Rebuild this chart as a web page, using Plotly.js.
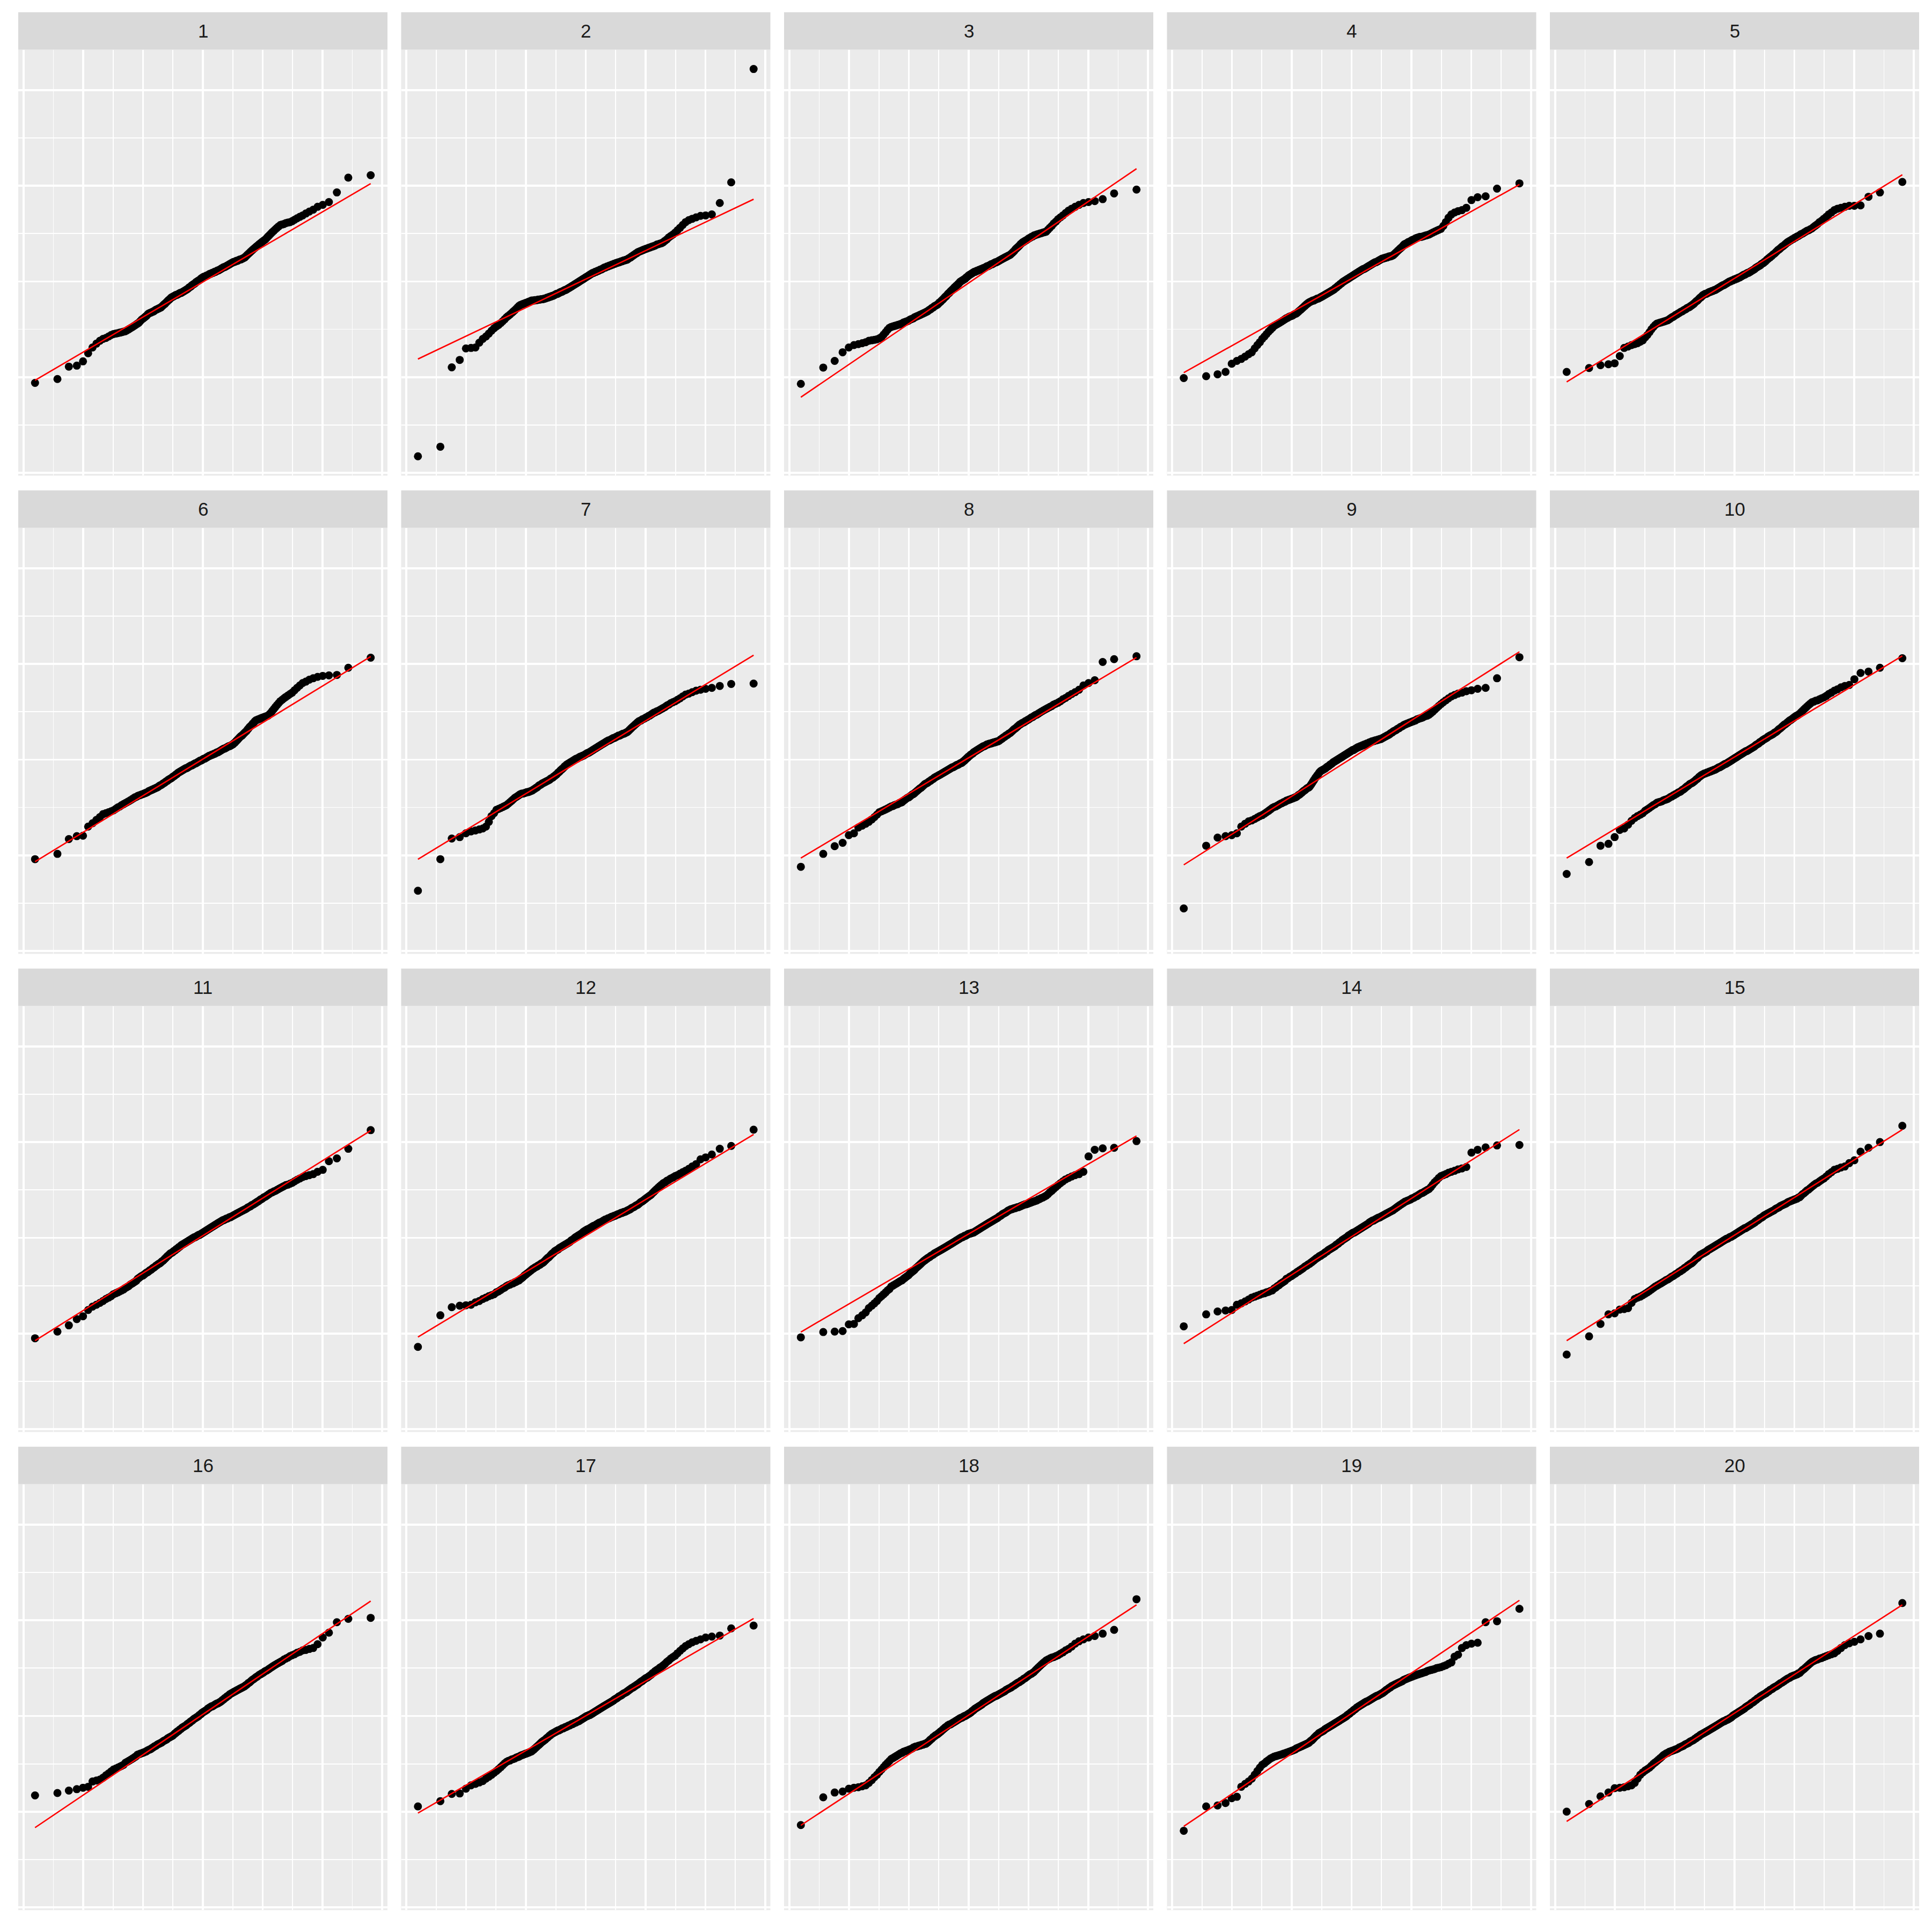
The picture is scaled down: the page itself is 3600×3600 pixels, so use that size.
<!DOCTYPE html>
<html>
<head>
<meta charset="utf-8">
<script src="https://cdn.plot.ly/plotly-3.0.1.min.js"></script>
<style>html,body{margin:0;padding:0;background:#fff}#chart{width:3600px;height:3600px}</style>
</head>
<body>
<div id="chart"></div>
<script>
// Facet labels
const panelLabels = ["1","2","3","4","5","6","7","8","9","10","11","12","13","14","15","16","17","18","19","20"];

// Sorted sample values for each facet (200 each)
const p1 = [-1.06,-1.02,-0.89,-0.88,-0.835,-0.75,
-0.69,-0.65,-0.62,-0.60,-0.59,-0.575,-0.56,-0.55,-0.545,-0.54,-0.535,-0.53,-0.525,
-0.52,-0.51,-0.50,-0.49,-0.48,-0.47,-0.46,-0.45,-0.44,-0.43,-0.415,-0.40,-0.39,-0.38,-0.37,-0.36,-0.345,-0.335,
-0.33,-0.325,-0.32,-0.315,-0.31,-0.30,-0.295,-0.29,-0.285,-0.28,-0.275,
-0.27,-0.26,-0.25,-0.24,-0.235,-0.225,-0.215,-0.205,-0.195,-0.19,-0.18,-0.17,-0.165,
-0.16,-0.155,-0.15,-0.145,-0.14,-0.14,-0.135,-0.13,-0.125,-0.12,-0.12,-0.115,-0.11,-0.105,-0.10,
-0.095,-0.09,-0.085,-0.08,-0.075,-0.065,-0.06,-0.055,-0.05,-0.04,-0.035,-0.03,-0.025,-0.02,-0.01,-0.005,
0,0.005,0.01,0.015,0.02,0.03,0.035,0.04,
0.045,0.05,0.05,0.055,0.06,0.06,0.065,0.07,
0.075,0.08,0.08,0.085,0.09,0.09,0.095,0.10,0.10,0.105,0.11,0.115,0.115,0.12,0.125,0.13,
0.135,0.14,0.145,0.15,0.15,0.155,0.16,0.165,0.17,0.175,0.18,0.185,0.19,0.195,0.20,
0.205,0.205,0.21,0.215,0.215,0.22,0.225,0.23,0.23,0.235,0.24,0.245,0.25,
0.26,0.27,0.28,0.29,0.30,0.31,0.32,0.33,0.34,0.35,0.36,
0.37,0.38,0.39,0.40,0.41,0.42,0.43,0.44,0.455,0.47,
0.485,0.50,0.515,0.53,0.545,0.56,0.575,0.59,0.595,0.60,0.61,0.615,0.62,0.63,
0.645,0.66,0.675,0.69,0.71,0.73,0.75,
0.78,0.80,0.83,0.93,1.085,1.11];

const p2 = [-1.827,-1.727,-0.898,-0.82,-0.70,-0.695,
-0.69,-0.64,-0.60,-0.575,-0.545,-0.515,-0.49,-0.47,-0.455,-0.435,-0.415,-0.395,-0.375,
-0.36,-0.345,-0.33,-0.315,-0.30,-0.285,-0.27,-0.255,
-0.245,-0.24,-0.235,-0.23,-0.225,-0.22,-0.215,-0.21,-0.205,-0.20,
-0.20,-0.20,-0.195,-0.195,-0.195,-0.19,-0.19,-0.19,-0.185,-0.185,-0.185,
-0.18,-0.18,-0.175,-0.17,-0.17,-0.165,-0.16,-0.16,-0.155,-0.15,-0.15,-0.145,-0.14,
-0.135,-0.13,-0.13,-0.125,-0.12,-0.115,-0.11,-0.11,-0.105,-0.10,-0.095,-0.09,-0.09,-0.085,-0.08,
-0.075,-0.07,-0.065,-0.06,-0.055,-0.05,-0.045,-0.04,-0.035,-0.03,-0.025,-0.02,-0.015,-0.01,-0.005,0,
0.005,0.01,0.015,0.02,0.025,0.03,0.035,0.04,
0.045,0.05,0.055,0.06,0.065,0.07,0.075,0.08,
0.085,0.09,0.09,0.095,0.10,0.10,0.105,0.11,0.11,0.115,0.12,0.125,0.125,0.13,0.135,0.14,
0.145,0.145,0.15,0.155,0.155,0.16,0.165,0.165,0.17,0.175,0.175,0.18,0.185,0.185,0.19,
0.195,0.195,0.20,0.20,0.205,0.21,0.21,0.215,0.22,0.22,0.225,0.225,0.23,
0.24,0.245,0.25,0.26,0.265,0.275,0.28,0.29,0.295,0.305,0.31,
0.315,0.32,0.325,0.33,0.335,0.34,0.345,0.35,0.355,0.36,
0.365,0.37,0.375,0.385,0.39,0.395,0.40,0.41,
0.425,0.44,0.46,0.475,0.49,0.51,0.535,0.56,0.59,0.62,0.64,0.655,0.67,
0.685,0.69,0.70,0.82,1.036,2.22];

const p3 = [-1.07,-0.90,-0.83,-0.74,-0.69,-0.665,
-0.655,-0.645,-0.635,-0.62,-0.615,-0.61,-0.605,-0.595,-0.58,-0.555,-0.53,-0.505,-0.485,
-0.475,-0.47,-0.465,-0.46,-0.455,-0.45,-0.445,-0.44,
-0.43,-0.425,-0.42,-0.415,-0.41,-0.40,-0.395,-0.39,-0.385,-0.375,
-0.37,-0.365,-0.36,-0.355,-0.35,-0.345,-0.34,-0.335,-0.33,-0.325,-0.32,
-0.315,-0.31,-0.30,-0.295,-0.29,-0.28,-0.275,-0.27,-0.26,-0.255,-0.25,-0.245,-0.24,
-0.23,-0.22,-0.215,-0.205,-0.195,-0.19,-0.18,-0.17,-0.16,-0.155,-0.145,-0.135,-0.125,-0.12,-0.11,
-0.10,-0.095,-0.085,-0.08,-0.07,-0.06,-0.055,-0.045,-0.04,-0.03,-0.025,-0.015,-0.005,0,0.005,0.01,
0.015,0.02,0.025,0.03,0.04,0.045,0.05,0.06,
0.065,0.07,0.075,0.08,0.085,0.09,0.095,0.10,
0.10,0.105,0.11,0.11,0.115,0.12,0.12,0.125,0.13,0.13,0.135,0.14,0.14,0.145,0.15,0.155,
0.16,0.16,0.165,0.17,0.175,0.18,0.18,0.185,0.19,0.195,0.20,0.20,0.205,0.21,0.215,
0.22,0.225,0.23,0.235,0.24,0.245,0.25,0.255,0.26,0.265,0.27,0.275,0.28,
0.29,0.30,0.31,0.32,0.335,0.345,0.355,0.365,0.375,0.39,0.40,
0.41,0.415,0.425,0.43,0.44,0.45,0.455,0.465,0.47,0.48,
0.485,0.49,0.495,0.50,0.505,0.51,0.515,0.52,
0.54,0.56,0.58,0.605,0.625,0.65,0.67,0.69,0.715,0.74,0.76,0.78,0.80,
0.82,0.83,0.84,0.86,0.92,0.96];

const p4 = [-1.01,-0.99,-0.97,-0.945,-0.86,-0.83,
-0.81,-0.785,-0.76,-0.74,-0.70,-0.665,-0.635,-0.60,-0.575,-0.55,-0.525,-0.505,-0.485,
-0.465,-0.455,-0.445,-0.435,-0.425,-0.415,-0.405,-0.395,
-0.385,-0.38,-0.37,-0.365,-0.36,-0.355,-0.345,-0.34,-0.335,-0.325,
-0.315,-0.305,-0.295,-0.285,-0.275,-0.265,-0.255,-0.245,-0.235,-0.23,-0.22,
-0.215,-0.21,-0.205,-0.20,-0.20,-0.195,-0.19,-0.185,-0.18,-0.18,-0.175,-0.17,-0.165,
-0.16,-0.155,-0.15,-0.145,-0.14,-0.135,-0.13,-0.125,-0.12,-0.115,-0.11,-0.105,-0.10,-0.095,-0.09,
-0.085,-0.08,-0.07,-0.065,-0.06,-0.05,-0.045,-0.04,-0.03,-0.025,-0.02,-0.01,-0.005,0,0.005,0.01,
0.015,0.02,0.025,0.03,0.035,0.04,0.045,0.05,
0.055,0.06,0.065,0.07,0.075,0.08,0.085,0.09,
0.095,0.10,0.105,0.11,0.115,0.12,0.125,0.13,0.13,0.135,0.14,0.145,0.15,0.155,0.16,0.165,
0.17,0.175,0.18,0.185,0.19,0.195,0.20,0.20,0.205,0.21,0.215,0.22,0.225,0.23,0.235,
0.24,0.24,0.245,0.245,0.25,0.25,0.255,0.26,0.26,0.265,0.265,0.27,0.275,
0.285,0.295,0.305,0.315,0.325,0.335,0.345,0.355,0.365,0.38,0.39,
0.395,0.40,0.41,0.415,0.42,0.43,0.435,0.44,0.45,0.455,
0.46,0.465,0.465,0.47,0.475,0.48,0.485,0.49,
0.50,0.51,0.52,0.53,0.54,0.55,0.58,0.62,0.665,0.70,0.72,0.735,0.745,
0.77,0.85,0.88,0.89,0.97,1.025];

const p5 = [-0.945,-0.905,-0.875,-0.865,-0.855,-0.78,
-0.695,-0.68,-0.665,-0.655,-0.645,-0.63,-0.615,-0.585,-0.56,-0.53,-0.50,-0.475,-0.455,
-0.44,-0.435,-0.43,-0.425,-0.42,-0.415,-0.41,-0.405,
-0.395,-0.385,-0.375,-0.37,-0.36,-0.35,-0.345,-0.335,-0.33,-0.32,
-0.315,-0.31,-0.30,-0.295,-0.29,-0.28,-0.275,-0.27,-0.265,-0.255,-0.25,
-0.24,-0.235,-0.225,-0.215,-0.205,-0.20,-0.19,-0.18,-0.17,-0.165,-0.155,-0.145,-0.14,
-0.135,-0.13,-0.13,-0.125,-0.12,-0.115,-0.11,-0.11,-0.105,-0.10,-0.10,-0.095,-0.09,-0.09,-0.085,
-0.08,-0.075,-0.07,-0.065,-0.06,-0.055,-0.05,-0.045,-0.04,-0.04,-0.035,-0.03,-0.025,-0.02,-0.015,-0.01,
-0.005,0,0,0.005,0.01,0.01,0.015,0.02,
0.02,0.025,0.03,0.03,0.035,0.04,0.04,0.045,
0.05,0.055,0.06,0.065,0.07,0.07,0.075,0.08,0.085,0.09,0.09,0.095,0.10,0.105,0.11,0.115,
0.12,0.125,0.13,0.14,0.145,0.15,0.155,0.16,0.165,0.17,0.18,0.185,0.19,0.195,0.205,
0.21,0.22,0.23,0.235,0.245,0.25,0.26,0.265,0.275,0.285,0.29,0.30,0.31,
0.32,0.33,0.335,0.345,0.355,0.365,0.37,0.38,0.39,0.40,0.41,
0.415,0.425,0.43,0.44,0.445,0.455,0.46,0.47,0.475,0.485,
0.495,0.50,0.51,0.52,0.53,0.535,0.545,0.555,
0.57,0.585,0.60,0.62,0.635,0.655,0.675,0.70,0.72,0.745,0.76,0.77,0.78,
0.79,0.79,0.795,0.885,0.93,1.04];

const p6 = [-1.04,-0.985,-0.83,-0.80,-0.795,-0.70,
-0.665,-0.63,-0.60,-0.57,-0.56,-0.55,-0.54,-0.53,-0.515,-0.50,-0.49,-0.475,-0.465,
-0.455,-0.445,-0.435,-0.425,-0.415,-0.405,-0.395,-0.39,
-0.38,-0.375,-0.37,-0.365,-0.36,-0.355,-0.35,-0.345,-0.34,-0.33,
-0.325,-0.32,-0.315,-0.31,-0.305,-0.30,-0.295,-0.29,-0.285,-0.275,-0.27,
-0.265,-0.26,-0.25,-0.245,-0.24,-0.23,-0.225,-0.22,-0.21,-0.205,-0.20,-0.195,-0.19,
-0.18,-0.175,-0.17,-0.16,-0.155,-0.15,-0.14,-0.135,-0.13,-0.125,-0.12,-0.115,-0.11,-0.105,-0.10,
-0.095,-0.09,-0.09,-0.085,-0.08,-0.075,-0.07,-0.065,-0.06,-0.06,-0.055,-0.05,-0.045,-0.04,-0.04,-0.035,
-0.03,-0.025,-0.02,-0.015,-0.01,-0.01,-0.005,0,
0.005,0.01,0.01,0.015,0.02,0.025,0.03,0.035,
0.04,0.04,0.045,0.05,0.05,0.055,0.06,0.06,0.065,0.07,0.075,0.075,0.08,0.085,0.09,0.095,
0.10,0.105,0.11,0.115,0.115,0.12,0.125,0.13,0.135,0.14,0.14,0.145,0.15,0.155,0.16,
0.17,0.175,0.185,0.195,0.205,0.215,0.225,0.235,0.245,0.25,0.26,0.27,0.28,
0.29,0.30,0.315,0.325,0.34,0.35,0.36,0.375,0.385,0.40,0.41,
0.415,0.42,0.425,0.43,0.435,0.44,0.445,0.45,0.455,0.46,
0.475,0.49,0.51,0.53,0.55,0.57,0.59,0.61,
0.625,0.64,0.655,0.67,0.685,0.70,0.725,0.75,0.775,0.80,0.815,0.835,0.85,
0.865,0.875,0.88,0.885,0.96,1.065];

const p7 = [-1.37,-1.04,-0.825,-0.81,-0.77,-0.75,
-0.74,-0.73,-0.72,-0.70,-0.65,-0.59,-0.56,-0.525,-0.515,-0.505,-0.495,-0.485,-0.475,
-0.46,-0.445,-0.43,-0.415,-0.40,-0.39,-0.38,-0.37,
-0.36,-0.355,-0.355,-0.35,-0.345,-0.34,-0.34,-0.335,-0.33,-0.325,
-0.32,-0.31,-0.305,-0.295,-0.29,-0.28,-0.27,-0.265,-0.26,-0.25,-0.245,
-0.24,-0.235,-0.23,-0.225,-0.22,-0.215,-0.21,-0.20,-0.195,-0.19,-0.185,-0.175,-0.17,
-0.16,-0.155,-0.145,-0.135,-0.13,-0.12,-0.11,-0.105,-0.095,-0.09,-0.08,-0.07,-0.065,-0.055,-0.05,
-0.045,-0.04,-0.035,-0.03,-0.025,-0.02,-0.015,-0.01,-0.005,0,0.005,0.01,0.01,0.015,0.02,0.025,
0.03,0.03,0.035,0.04,0.04,0.045,0.05,0.055,
0.06,0.065,0.07,0.07,0.075,0.08,0.085,0.09,
0.095,0.10,0.105,0.11,0.115,0.12,0.125,0.13,0.135,0.14,0.145,0.15,0.155,0.16,0.165,0.17,
0.175,0.18,0.185,0.19,0.195,0.20,0.20,0.205,0.21,0.215,0.22,0.225,0.225,0.23,0.235,
0.24,0.245,0.25,0.25,0.255,0.26,0.265,0.27,0.27,0.275,0.28,0.285,0.29,
0.30,0.31,0.32,0.33,0.34,0.35,0.36,0.37,0.38,0.39,0.40,
0.405,0.41,0.42,0.425,0.43,0.44,0.445,0.455,0.46,0.47,
0.48,0.49,0.495,0.505,0.51,0.52,0.53,0.54,
0.55,0.565,0.575,0.59,0.60,0.61,0.625,0.64,0.66,0.68,0.69,0.705,0.72,
0.73,0.74,0.75,0.77,0.79,0.795];

const p8 = [-1.12,-0.985,-0.905,-0.87,-0.79,-0.77,
-0.71,-0.69,-0.67,-0.65,-0.625,-0.60,-0.575,-0.55,-0.54,-0.53,-0.52,-0.51,-0.50,
-0.49,-0.485,-0.475,-0.47,-0.465,-0.455,-0.45,-0.445,
-0.43,-0.42,-0.41,-0.40,-0.395,-0.385,-0.375,-0.365,-0.36,-0.35,
-0.34,-0.33,-0.32,-0.31,-0.30,-0.295,-0.285,-0.275,-0.265,-0.255,-0.25,
-0.245,-0.24,-0.23,-0.225,-0.22,-0.21,-0.205,-0.20,-0.19,-0.185,-0.18,-0.175,-0.17,
-0.165,-0.16,-0.155,-0.15,-0.145,-0.14,-0.135,-0.13,-0.125,-0.12,-0.115,-0.11,-0.105,-0.10,-0.095,
-0.09,-0.085,-0.08,-0.08,-0.075,-0.07,-0.065,-0.06,-0.055,-0.055,-0.05,-0.045,-0.04,-0.035,-0.035,-0.03,
-0.02,-0.015,-0.01,0,0.005,0.015,0.02,0.03,
0.035,0.04,0.05,0.055,0.06,0.065,0.075,0.08,
0.085,0.09,0.095,0.10,0.105,0.11,0.115,0.12,0.125,0.13,0.135,0.14,0.14,0.145,0.15,0.155,
0.16,0.16,0.165,0.165,0.17,0.17,0.175,0.175,0.18,0.18,0.185,0.185,0.19,0.19,0.195,
0.20,0.21,0.215,0.22,0.23,0.235,0.24,0.25,0.255,0.26,0.27,0.275,0.28,
0.29,0.30,0.31,0.32,0.325,0.335,0.345,0.355,0.365,0.37,0.38,
0.385,0.39,0.40,0.405,0.415,0.42,0.43,0.44,0.445,0.455,
0.465,0.47,0.48,0.49,0.50,0.51,0.52,0.53,
0.54,0.55,0.56,0.575,0.585,0.595,0.61,0.63,0.645,0.665,0.685,0.705,0.73,
0.775,0.80,0.83,1.02,1.05,1.08];

const p9 = [-1.555,-0.90,-0.815,-0.80,-0.79,-0.77,
-0.70,-0.67,-0.645,-0.635,-0.62,-0.605,-0.59,-0.58,-0.565,-0.55,-0.535,-0.52,-0.505,
-0.495,-0.49,-0.48,-0.47,-0.46,-0.455,-0.445,-0.44,
-0.43,-0.425,-0.42,-0.415,-0.41,-0.405,-0.40,-0.395,-0.39,-0.38,
-0.37,-0.365,-0.355,-0.345,-0.335,-0.325,-0.32,-0.31,-0.30,-0.295,-0.29,
-0.28,-0.265,-0.25,-0.235,-0.22,-0.205,-0.19,-0.18,-0.165,-0.155,-0.14,-0.13,-0.12,
-0.115,-0.11,-0.105,-0.10,-0.095,-0.09,-0.08,-0.075,-0.07,-0.065,-0.055,-0.05,-0.045,-0.04,-0.03,
-0.025,-0.02,-0.015,-0.01,-0.005,0,0.005,0.01,0.015,0.02,0.025,0.03,0.035,0.04,0.045,0.05,
0.055,0.06,0.065,0.07,0.075,0.08,0.085,0.09,
0.095,0.10,0.10,0.105,0.11,0.115,0.12,0.125,
0.13,0.13,0.135,0.14,0.14,0.145,0.15,0.15,0.155,0.16,0.16,0.165,0.17,0.17,0.175,0.18,
0.18,0.185,0.19,0.19,0.195,0.195,0.20,0.20,0.205,0.205,0.21,0.21,0.215,0.215,0.22,
0.225,0.23,0.235,0.24,0.245,0.25,0.255,0.26,0.265,0.275,0.28,0.285,0.295,
0.30,0.305,0.31,0.32,0.325,0.33,0.34,0.345,0.35,0.36,0.365,
0.37,0.375,0.38,0.385,0.39,0.395,0.40,0.405,0.41,0.42,
0.425,0.43,0.435,0.44,0.45,0.455,0.46,0.47,
0.485,0.50,0.52,0.54,0.56,0.58,0.60,0.62,0.64,0.66,0.675,0.69,0.70,
0.715,0.725,0.74,0.75,0.85,1.07];

const p10 = [-1.195,-1.07,-0.90,-0.88,-0.81,-0.735,
-0.72,-0.68,-0.64,-0.61,-0.59,-0.575,-0.56,-0.535,-0.52,-0.505,-0.49,-0.475,-0.465,
-0.45,-0.445,-0.44,-0.435,-0.425,-0.42,-0.415,-0.41,
-0.40,-0.39,-0.385,-0.375,-0.37,-0.36,-0.355,-0.345,-0.34,-0.335,
-0.325,-0.315,-0.31,-0.30,-0.29,-0.28,-0.275,-0.265,-0.255,-0.25,-0.245,
-0.24,-0.23,-0.225,-0.215,-0.205,-0.20,-0.19,-0.18,-0.175,-0.165,-0.16,-0.155,-0.15,
-0.145,-0.145,-0.14,-0.135,-0.135,-0.13,-0.125,-0.125,-0.12,-0.115,-0.115,-0.11,-0.105,-0.105,-0.10,
-0.095,-0.09,-0.085,-0.08,-0.08,-0.075,-0.07,-0.065,-0.06,-0.055,-0.05,-0.045,-0.045,-0.04,-0.035,-0.03,
-0.025,-0.02,-0.015,-0.01,-0.005,0,0.005,0.01,
0.015,0.02,0.025,0.03,0.035,0.04,0.045,0.05,
0.055,0.06,0.065,0.07,0.075,0.08,0.085,0.09,0.09,0.095,0.10,0.105,0.11,0.115,0.12,0.125,
0.13,0.135,0.14,0.15,0.155,0.16,0.165,0.17,0.18,0.185,0.19,0.195,0.205,0.21,0.215,
0.22,0.225,0.23,0.24,0.245,0.25,0.255,0.26,0.265,0.27,0.28,0.285,0.29,
0.30,0.31,0.32,0.325,0.335,0.345,0.355,0.365,0.37,0.38,0.39,
0.40,0.41,0.415,0.425,0.435,0.445,0.455,0.46,0.47,0.48,
0.495,0.51,0.525,0.54,0.555,0.57,0.585,0.60,
0.605,0.615,0.62,0.63,0.64,0.65,0.665,0.685,0.70,0.72,0.735,0.755,0.77,
0.78,0.84,0.905,0.92,0.96,1.06];

const p11 = [-1.05,-0.98,-0.915,-0.85,-0.82,-0.755,
-0.72,-0.70,-0.68,-0.66,-0.64,-0.625,-0.61,-0.59,-0.58,-0.57,-0.56,-0.55,-0.54,
-0.525,-0.515,-0.505,-0.49,-0.48,-0.47,-0.46,-0.45,
-0.43,-0.42,-0.41,-0.40,-0.395,-0.385,-0.375,-0.365,-0.36,-0.35,
-0.34,-0.335,-0.325,-0.315,-0.31,-0.30,-0.29,-0.285,-0.275,-0.27,-0.265,
-0.255,-0.245,-0.24,-0.23,-0.22,-0.21,-0.20,-0.19,-0.185,-0.175,-0.165,-0.16,-0.155,
-0.15,-0.14,-0.135,-0.13,-0.12,-0.115,-0.11,-0.10,-0.095,-0.09,-0.08,-0.075,-0.07,-0.065,-0.06,
-0.055,-0.05,-0.045,-0.04,-0.035,-0.03,-0.025,-0.02,-0.015,-0.01,-0.005,0,0.005,0.005,0.01,0.015,
0.02,0.025,0.03,0.03,0.035,0.04,0.045,0.05,
0.055,0.06,0.065,0.07,0.075,0.08,0.085,0.09,
0.095,0.10,0.105,0.11,0.115,0.12,0.125,0.13,0.135,0.14,0.145,0.15,0.155,0.16,0.165,0.17,
0.175,0.18,0.185,0.185,0.19,0.195,0.20,0.20,0.205,0.21,0.215,0.215,0.22,0.225,0.23,
0.235,0.24,0.245,0.25,0.255,0.26,0.265,0.27,0.275,0.28,0.285,0.29,0.295,
0.30,0.305,0.315,0.32,0.325,0.33,0.34,0.345,0.35,0.36,0.365,
0.375,0.38,0.39,0.40,0.405,0.415,0.425,0.43,0.44,0.45,
0.46,0.47,0.475,0.485,0.49,0.50,0.51,0.52,
0.53,0.54,0.55,0.555,0.565,0.575,0.59,0.605,0.62,0.635,0.645,0.655,0.665,
0.69,0.71,0.80,0.83,0.93,1.125];

const p12 = [-1.14,-0.81,-0.725,-0.71,-0.705,-0.70,
-0.675,-0.66,-0.64,-0.625,-0.61,-0.60,-0.59,-0.57,-0.56,-0.545,-0.53,-0.52,-0.505,
-0.495,-0.49,-0.48,-0.475,-0.465,-0.46,-0.45,-0.445,
-0.43,-0.42,-0.41,-0.395,-0.385,-0.375,-0.365,-0.355,-0.345,-0.335,
-0.325,-0.32,-0.31,-0.305,-0.30,-0.29,-0.285,-0.28,-0.27,-0.265,-0.26,
-0.25,-0.24,-0.23,-0.22,-0.21,-0.205,-0.195,-0.185,-0.175,-0.165,-0.16,-0.15,-0.14,
-0.135,-0.13,-0.125,-0.12,-0.11,-0.105,-0.10,-0.095,-0.09,-0.085,-0.08,-0.075,-0.07,-0.065,-0.06,
-0.055,-0.05,-0.045,-0.04,-0.03,-0.025,-0.02,-0.015,-0.01,0,0.005,0.01,0.015,0.02,0.025,0.03,
0.035,0.04,0.045,0.05,0.06,0.065,0.07,0.075,
0.08,0.085,0.09,0.09,0.095,0.10,0.105,0.11,
0.115,0.12,0.125,0.125,0.13,0.135,0.14,0.145,0.15,0.155,0.16,0.16,0.165,0.17,0.175,0.18,
0.185,0.19,0.19,0.195,0.20,0.205,0.205,0.21,0.215,0.22,0.22,0.225,0.23,0.23,0.235,
0.24,0.245,0.245,0.25,0.255,0.26,0.26,0.265,0.27,0.27,0.275,0.28,0.285,
0.29,0.295,0.30,0.31,0.315,0.32,0.325,0.335,0.34,0.345,0.355,
0.365,0.375,0.38,0.39,0.40,0.41,0.42,0.43,0.44,0.45,
0.465,0.48,0.495,0.51,0.525,0.54,0.555,0.57,
0.58,0.595,0.605,0.62,0.63,0.645,0.655,0.67,0.685,0.70,0.72,0.745,0.77,
0.82,0.84,0.87,0.93,0.96,1.13];

const p13 = [-1.04,-0.985,-0.98,-0.975,-0.905,-0.90,
-0.84,-0.81,-0.78,-0.735,-0.71,-0.685,-0.66,-0.63,-0.61,-0.59,-0.57,-0.55,-0.535,
-0.51,-0.50,-0.49,-0.48,-0.47,-0.46,-0.45,-0.445,
-0.43,-0.42,-0.41,-0.40,-0.39,-0.375,-0.365,-0.355,-0.345,-0.335,
-0.32,-0.31,-0.30,-0.29,-0.28,-0.27,-0.26,-0.25,-0.24,-0.235,-0.225,
-0.22,-0.21,-0.205,-0.20,-0.19,-0.185,-0.18,-0.175,-0.165,-0.16,-0.155,-0.15,-0.145,
-0.14,-0.135,-0.13,-0.125,-0.12,-0.115,-0.11,-0.105,-0.10,-0.095,-0.09,-0.085,-0.08,-0.075,-0.07,
-0.065,-0.06,-0.055,-0.05,-0.045,-0.04,-0.035,-0.03,-0.025,-0.02,-0.015,-0.01,-0.005,0,0.005,0.005,
0.01,0.015,0.02,0.02,0.025,0.03,0.035,0.04,
0.04,0.045,0.045,0.05,0.05,0.055,0.055,0.06,
0.065,0.07,0.075,0.08,0.085,0.09,0.095,0.10,0.105,0.11,0.115,0.12,0.125,0.13,0.135,0.14,
0.145,0.15,0.155,0.16,0.165,0.17,0.175,0.18,0.185,0.19,0.195,0.20,0.205,0.21,0.22,
0.225,0.23,0.235,0.245,0.25,0.255,0.26,0.265,0.27,0.28,0.285,0.29,0.295,
0.30,0.30,0.305,0.31,0.31,0.315,0.32,0.32,0.325,0.33,0.335,
0.34,0.345,0.35,0.35,0.355,0.36,0.365,0.37,0.375,0.38,
0.385,0.39,0.40,0.405,0.415,0.42,0.43,0.44,
0.455,0.475,0.49,0.51,0.53,0.55,0.57,0.59,0.61,0.625,0.64,0.655,0.665,
0.69,0.85,0.92,0.935,0.94,1.01];

const p14 = [-0.925,-0.80,-0.77,-0.76,-0.755,-0.70,
-0.685,-0.665,-0.645,-0.625,-0.615,-0.605,-0.595,-0.585,-0.58,-0.57,-0.565,-0.555,-0.55,
-0.53,-0.52,-0.505,-0.495,-0.48,-0.47,-0.46,-0.45,
-0.43,-0.425,-0.415,-0.405,-0.40,-0.39,-0.38,-0.375,-0.365,-0.355,
-0.35,-0.34,-0.335,-0.325,-0.32,-0.31,-0.30,-0.295,-0.29,-0.28,-0.275,
-0.27,-0.26,-0.255,-0.245,-0.24,-0.23,-0.225,-0.215,-0.21,-0.205,-0.195,-0.19,-0.19,
-0.18,-0.175,-0.17,-0.165,-0.155,-0.15,-0.145,-0.14,-0.13,-0.125,-0.12,-0.115,-0.11,-0.105,-0.10,
-0.095,-0.09,-0.085,-0.075,-0.07,-0.065,-0.06,-0.05,-0.045,-0.04,-0.035,-0.025,-0.02,-0.015,-0.01,-0.005,
0,0.005,0.01,0.02,0.025,0.03,0.035,0.04,
0.045,0.05,0.055,0.055,0.06,0.065,0.07,0.075,
0.08,0.085,0.09,0.095,0.10,0.105,0.11,0.115,0.12,0.125,0.13,0.135,0.14,0.145,0.15,0.16,
0.165,0.17,0.175,0.18,0.18,0.185,0.19,0.195,0.20,0.205,0.21,0.21,0.215,0.22,0.225,
0.23,0.235,0.24,0.245,0.25,0.255,0.26,0.265,0.27,0.275,0.28,0.285,0.29,
0.30,0.305,0.315,0.32,0.33,0.335,0.345,0.35,0.36,0.365,0.375,
0.38,0.385,0.39,0.395,0.40,0.41,0.415,0.42,0.43,0.435,
0.445,0.455,0.465,0.47,0.48,0.49,0.50,0.51,
0.53,0.555,0.58,0.60,0.625,0.645,0.655,0.665,0.68,0.69,0.70,0.715,0.725,
0.74,0.89,0.92,0.945,0.965,0.97];

const p15 = [-1.22,-1.03,-0.90,-0.80,-0.79,-0.75,
-0.745,-0.735,-0.68,-0.64,-0.625,-0.615,-0.60,-0.585,-0.57,-0.555,-0.54,-0.525,-0.51,
-0.50,-0.49,-0.48,-0.47,-0.46,-0.45,-0.44,-0.435,
-0.425,-0.415,-0.405,-0.40,-0.39,-0.38,-0.375,-0.365,-0.355,-0.35,
-0.34,-0.335,-0.325,-0.315,-0.31,-0.30,-0.29,-0.285,-0.275,-0.27,-0.265,
-0.255,-0.245,-0.235,-0.225,-0.215,-0.21,-0.20,-0.19,-0.18,-0.175,-0.17,-0.165,-0.16,
-0.155,-0.15,-0.145,-0.14,-0.13,-0.125,-0.12,-0.115,-0.11,-0.105,-0.10,-0.095,-0.09,-0.085,-0.08,
-0.075,-0.07,-0.065,-0.06,-0.055,-0.05,-0.045,-0.04,-0.035,-0.03,-0.025,-0.02,-0.015,-0.01,-0.01,-0.005,
0,0.005,0.01,0.01,0.015,0.02,0.025,0.03,
0.035,0.04,0.045,0.05,0.055,0.06,0.065,0.07,
0.075,0.08,0.085,0.09,0.095,0.10,0.10,0.105,0.11,0.115,0.12,0.125,0.13,0.135,0.14,0.145,
0.15,0.155,0.16,0.17,0.175,0.18,0.185,0.19,0.20,0.205,0.21,0.215,0.22,0.23,0.235,
0.24,0.245,0.25,0.255,0.26,0.265,0.27,0.275,0.28,0.285,0.29,0.30,0.305,
0.31,0.315,0.32,0.33,0.335,0.34,0.345,0.35,0.355,0.36,0.37,
0.375,0.38,0.385,0.39,0.395,0.40,0.405,0.41,0.42,0.425,
0.44,0.455,0.465,0.48,0.495,0.505,0.52,0.535,
0.55,0.565,0.575,0.59,0.605,0.62,0.64,0.665,0.685,0.71,0.72,0.735,0.745,
0.78,0.81,0.90,0.94,1.0,1.17];

const p16 = [-0.83,-0.805,-0.78,-0.765,-0.75,-0.74,
-0.685,-0.675,-0.665,-0.645,-0.62,-0.60,-0.58,-0.56,-0.55,-0.54,-0.53,-0.52,-0.51,
-0.49,-0.48,-0.47,-0.46,-0.45,-0.44,-0.43,-0.42,
-0.405,-0.40,-0.395,-0.39,-0.385,-0.38,-0.375,-0.37,-0.36,-0.355,
-0.35,-0.345,-0.335,-0.33,-0.32,-0.315,-0.31,-0.30,-0.295,-0.29,-0.285,
-0.28,-0.275,-0.265,-0.26,-0.255,-0.25,-0.245,-0.235,-0.23,-0.225,-0.22,-0.215,-0.21,
-0.205,-0.195,-0.19,-0.18,-0.175,-0.165,-0.16,-0.155,-0.145,-0.14,-0.135,-0.125,-0.12,-0.115,-0.11,
-0.105,-0.10,-0.095,-0.085,-0.08,-0.075,-0.07,-0.06,-0.055,-0.05,-0.045,-0.035,-0.03,-0.025,-0.02,-0.015,
-0.01,-0.005,0,0.01,0.015,0.02,0.03,0.035,
0.04,0.045,0.05,0.055,0.06,0.065,0.075,0.08,
0.085,0.09,0.095,0.10,0.10,0.105,0.11,0.115,0.12,0.125,0.13,0.13,0.135,0.14,0.145,0.15,
0.155,0.165,0.17,0.175,0.185,0.19,0.195,0.205,0.21,0.215,0.225,0.23,0.235,0.24,0.245,
0.25,0.255,0.26,0.265,0.27,0.275,0.28,0.285,0.29,0.295,0.30,0.305,0.31,
0.32,0.325,0.335,0.345,0.35,0.36,0.37,0.38,0.385,0.395,0.405,
0.41,0.42,0.43,0.435,0.445,0.45,0.46,0.47,0.475,0.485,
0.495,0.505,0.515,0.525,0.535,0.545,0.555,0.565,
0.575,0.59,0.60,0.61,0.625,0.635,0.645,0.66,0.67,0.685,0.69,0.70,0.71,
0.75,0.82,0.87,0.98,1.015,1.025];

const p17 = [-0.945,-0.89,-0.815,-0.81,-0.76,-0.725,
-0.71,-0.695,-0.68,-0.655,-0.635,-0.615,-0.595,-0.575,-0.555,-0.535,-0.515,-0.495,-0.48,
-0.47,-0.465,-0.455,-0.45,-0.445,-0.435,-0.43,-0.425,
-0.415,-0.41,-0.405,-0.40,-0.395,-0.39,-0.385,-0.38,-0.375,-0.37,
-0.36,-0.35,-0.34,-0.33,-0.32,-0.31,-0.30,-0.29,-0.28,-0.27,-0.265,
-0.255,-0.25,-0.24,-0.23,-0.225,-0.215,-0.205,-0.20,-0.19,-0.185,-0.18,-0.175,-0.17,
-0.165,-0.16,-0.155,-0.15,-0.15,-0.145,-0.14,-0.135,-0.13,-0.13,-0.125,-0.12,-0.115,-0.115,-0.11,
-0.105,-0.10,-0.10,-0.095,-0.09,-0.085,-0.085,-0.08,-0.075,-0.07,-0.07,-0.065,-0.06,-0.055,-0.055,-0.05,
-0.045,-0.04,-0.035,-0.03,-0.025,-0.02,-0.015,-0.01,
-0.005,0,0,0.005,0.01,0.01,0.015,0.02,
0.025,0.03,0.035,0.04,0.045,0.05,0.055,0.06,0.065,0.07,0.075,0.08,0.085,0.09,0.095,0.10,
0.105,0.11,0.115,0.12,0.125,0.13,0.135,0.14,0.145,0.15,0.155,0.16,0.17,0.175,0.18,
0.185,0.19,0.20,0.205,0.21,0.215,0.22,0.23,0.235,0.24,0.245,0.25,0.26,
0.265,0.275,0.28,0.29,0.295,0.30,0.31,0.315,0.325,0.33,0.34,
0.35,0.36,0.365,0.375,0.385,0.395,0.40,0.41,0.42,0.43,
0.445,0.455,0.47,0.48,0.49,0.505,0.515,0.53,
0.545,0.565,0.58,0.60,0.615,0.63,0.655,0.68,0.705,0.73,0.75,0.77,0.785,
0.80,0.82,0.83,0.84,0.915,0.945];

const p18 = [-1.14,-0.85,-0.80,-0.79,-0.76,-0.75,
-0.745,-0.735,-0.725,-0.70,-0.67,-0.64,-0.615,-0.585,-0.56,-0.535,-0.51,-0.49,-0.47,
-0.45,-0.44,-0.43,-0.42,-0.41,-0.40,-0.39,-0.385,
-0.375,-0.37,-0.365,-0.36,-0.355,-0.35,-0.345,-0.34,-0.33,-0.325,
-0.32,-0.32,-0.315,-0.31,-0.31,-0.305,-0.30,-0.30,-0.295,-0.29,-0.29,
-0.28,-0.275,-0.265,-0.255,-0.245,-0.24,-0.23,-0.22,-0.215,-0.205,-0.20,-0.195,-0.19,
-0.18,-0.175,-0.165,-0.16,-0.15,-0.145,-0.135,-0.13,-0.12,-0.115,-0.11,-0.10,-0.095,-0.09,-0.09,
-0.085,-0.08,-0.075,-0.07,-0.065,-0.06,-0.055,-0.05,-0.045,-0.04,-0.035,-0.03,-0.025,-0.02,-0.02,-0.015,
-0.01,-0.005,0,0,0.005,0.01,0.015,0.02,
0.025,0.03,0.035,0.04,0.05,0.055,0.06,0.07,
0.075,0.08,0.085,0.09,0.095,0.10,0.105,0.11,0.115,0.12,0.13,0.135,0.14,0.145,0.15,0.155,
0.16,0.165,0.17,0.175,0.18,0.185,0.19,0.195,0.20,0.205,0.21,0.21,0.215,0.22,0.225,
0.23,0.235,0.24,0.245,0.25,0.255,0.26,0.27,0.275,0.28,0.285,0.29,0.295,
0.30,0.31,0.315,0.32,0.33,0.335,0.345,0.35,0.355,0.365,0.37,
0.38,0.39,0.395,0.405,0.415,0.425,0.435,0.44,0.45,0.46,
0.475,0.49,0.505,0.52,0.535,0.55,0.565,0.58,
0.59,0.60,0.61,0.615,0.625,0.635,0.65,0.665,0.685,0.70,0.725,0.755,0.78,
0.80,0.82,0.835,0.86,0.90,1.22];

const p19 = [-1.20,-0.945,-0.935,-0.91,-0.86,-0.845,
-0.74,-0.71,-0.685,-0.655,-0.615,-0.575,-0.54,-0.51,-0.495,-0.475,-0.46,-0.445,-0.435,
-0.425,-0.42,-0.415,-0.41,-0.405,-0.40,-0.395,-0.39,
-0.385,-0.38,-0.375,-0.37,-0.365,-0.36,-0.355,-0.35,-0.34,-0.335,
-0.33,-0.325,-0.32,-0.315,-0.31,-0.305,-0.30,-0.295,-0.29,-0.285,-0.28,
-0.27,-0.26,-0.255,-0.245,-0.235,-0.225,-0.215,-0.205,-0.20,-0.19,-0.18,-0.175,-0.17,
-0.165,-0.16,-0.155,-0.15,-0.14,-0.135,-0.13,-0.125,-0.12,-0.115,-0.11,-0.105,-0.10,-0.095,-0.09,
-0.085,-0.08,-0.075,-0.07,-0.065,-0.06,-0.055,-0.05,-0.045,-0.04,-0.035,-0.03,-0.025,-0.02,-0.015,-0.01,
-0.005,0,0.01,0.015,0.02,0.025,0.035,0.04,
0.045,0.05,0.06,0.065,0.07,0.075,0.085,0.09,
0.095,0.10,0.105,0.11,0.115,0.12,0.125,0.13,0.135,0.14,0.145,0.15,0.15,0.155,0.16,0.165,
0.17,0.175,0.18,0.185,0.19,0.195,0.20,0.205,0.21,0.21,0.215,0.22,0.225,0.23,0.235,
0.24,0.245,0.255,0.26,0.27,0.275,0.28,0.29,0.295,0.30,0.31,0.315,0.32,
0.325,0.33,0.335,0.34,0.345,0.35,0.355,0.36,0.365,0.375,0.38,
0.385,0.39,0.395,0.40,0.405,0.41,0.415,0.42,0.425,0.43,
0.435,0.44,0.445,0.45,0.455,0.46,0.47,0.475,
0.48,0.485,0.49,0.50,0.505,0.51,0.52,0.53,0.545,0.56,0.62,0.64,0.71,
0.74,0.755,0.765,0.98,0.99,1.12];

const p20 = [-1.00,-0.92,-0.84,-0.80,-0.755,-0.75,
-0.745,-0.735,-0.725,-0.70,-0.655,-0.615,-0.59,-0.57,-0.555,-0.54,-0.52,-0.50,-0.485,
-0.47,-0.455,-0.44,-0.425,-0.41,-0.40,-0.39,-0.385,
-0.375,-0.37,-0.365,-0.36,-0.355,-0.35,-0.345,-0.34,-0.33,-0.325,
-0.32,-0.315,-0.31,-0.30,-0.295,-0.29,-0.285,-0.28,-0.27,-0.265,-0.26,
-0.255,-0.25,-0.24,-0.235,-0.23,-0.22,-0.215,-0.21,-0.20,-0.195,-0.19,-0.185,-0.18,
-0.175,-0.17,-0.165,-0.16,-0.155,-0.15,-0.145,-0.14,-0.135,-0.13,-0.125,-0.12,-0.115,-0.11,-0.105,
-0.10,-0.095,-0.09,-0.085,-0.08,-0.075,-0.07,-0.065,-0.06,-0.055,-0.055,-0.05,-0.045,-0.04,-0.04,-0.035,
-0.03,-0.025,-0.02,-0.015,-0.01,0,0.005,0.01,
0.015,0.02,0.025,0.03,0.035,0.04,0.045,0.05,
0.055,0.06,0.065,0.07,0.075,0.08,0.09,0.095,0.10,0.105,0.11,0.115,0.12,0.13,0.135,0.14,
0.145,0.15,0.16,0.165,0.17,0.18,0.185,0.19,0.195,0.205,0.21,0.215,0.22,0.225,0.23,
0.235,0.24,0.25,0.255,0.26,0.27,0.275,0.28,0.285,0.295,0.30,0.305,0.31,
0.315,0.325,0.33,0.34,0.345,0.35,0.36,0.365,0.375,0.38,0.39,
0.395,0.40,0.41,0.415,0.42,0.425,0.43,0.435,0.445,0.45,
0.465,0.48,0.49,0.505,0.52,0.535,0.55,0.565,
0.575,0.585,0.59,0.60,0.605,0.615,0.625,0.635,0.645,0.655,0.68,0.71,0.74,
0.76,0.775,0.80,0.835,0.86,1.18];

const samples = [p1,p2,p3,p4,p5,p6,p7,p8,p9,p10,p11,p12,p13,p14,p15,p16,p17,p18,p19,p20];

// ---- stat_qq machinery: normal quantile function (Acklam) ----
function qnorm(p){
  const a=[-3.969683028665376e+01,2.209460984245205e+02,-2.759285104469687e+02,1.383577518672690e+02,-3.066479806614716e+01,2.506628277459239e+00];
  const b=[-5.447609879822406e+01,1.615858368580409e+02,-1.556989798598866e+02,6.680131188771972e+01,-1.328068155288572e+01];
  const c=[-7.784894002430293e-03,-3.223964580411365e-01,-2.400758277161838e+00,-2.549732539343734e+00,4.374664141464968e+00,2.938163982698783e+00];
  const d=[7.784695709041462e-03,3.224671290700398e-01,2.445134137142996e+00,3.754408661907416e+00];
  const pl=0.02425, ph=1-pl; let q,r;
  if(p<pl){q=Math.sqrt(-2*Math.log(p));return (((((c[0]*q+c[1])*q+c[2])*q+c[3])*q+c[4])*q+c[5])/((((d[0]*q+d[1])*q+d[2])*q+d[3])*q+1);}
  if(p>ph){q=Math.sqrt(-2*Math.log(1-p));return -(((((c[0]*q+c[1])*q+c[2])*q+c[3])*q+c[4])*q+c[5])/((((d[0]*q+d[1])*q+d[2])*q+d[3])*q+1);}
  q=p-0.5;r=q*q;
  return (((((a[0]*r+a[1])*r+a[2])*r+a[3])*r+a[4])*r+a[5])*q/(((((b[0]*r+b[1])*r+b[2])*r+b[3])*r+b[4])*r+1);
}
function quantile7(sorted,p){
  const h=(sorted.length-1)*p, lo=Math.floor(h), hi=Math.min(lo+1,sorted.length-1);
  return sorted[lo]+(h-lo)*(sorted[hi]-sorted[lo]);
}

// ---- geometry (pixels in a 3600x3600 page) ----
const W=3600,H=3600;
const colLeft0=34, colStep=713.5, panelW=688;
const rowStep=891, stripTop0=22.8, plotTop0=92.5, plotBottom0=886.3;

const traces=[], shapes=[], annotations=[];
const layout={width:W,height:H,margin:{l:0,r:0,t:0,b:0},paper_bgcolor:'#FFFFFF',plot_bgcolor:'#EBEBEB',
  showlegend:false,shapes:shapes,annotations:annotations,font:{family:'Liberation Sans, Arial, sans-serif'}};

// global y range (fixed scales) with ggplot 5% expansion
let ymin=Infinity,ymax=-Infinity,xmaxAll=0;
samples.forEach(s=>{const srt=s.slice().sort((a,b)=>a-b);ymin=Math.min(ymin,srt[0]);ymax=Math.max(ymax,srt[srt.length-1]);
  xmaxAll=Math.max(xmaxAll,-qnorm(0.5/s.length));});
const yPad=0.05*(ymax-ymin), xPad=0.05*(2*xmaxAll);
const yRange=[ymin-yPad,ymax+yPad], xRange=[-xmaxAll-xPad,xmaxAll+xPad];

samples.forEach((s,k)=>{
  const idx=k+1, r=Math.floor(k/5), c=k%5;
  const srt=s.slice().sort((a,b)=>a-b), n=srt.length;
  const th=srt.map((_,i)=>qnorm((i+0.5)/n));
  const xa='x'+(idx===1?'':idx), ya='y'+(idx===1?'':idx);
  traces.push({type:'scatter',mode:'markers',x:th,y:srt,xaxis:xa,yaxis:ya,
    marker:{color:'#000000',size:15,line:{width:0}},hoverinfo:'skip',cliponaxis:false});
  // qq line through the quartiles
  const y1=quantile7(srt,0.25), y2=quantile7(srt,0.75), x1=qnorm(0.25), x2=qnorm(0.75);
  const slope=(y2-y1)/(x2-x1), icpt=y1-slope*x1;
  const xl=[th[0],th[n-1]];
  traces.push({type:'scatter',mode:'lines',x:xl,y:xl.map(v=>icpt+slope*v),xaxis:xa,yaxis:ya,
    line:{color:'#FF0000',width:2.6},hoverinfo:'skip'});

  const left=colLeft0+c*colStep, right=left+panelW;
  const sTop=stripTop0+r*rowStep, pTop=plotTop0+r*rowStep, pBot=plotBottom0+r*rowStep;
  const axBase={showticklabels:false,ticks:'',zeroline:false,showline:false,showgrid:true,
    gridcolor:'#FFFFFF',gridwidth:3.6,tick0:0,dtick:1,fixedrange:true,
    minor:{showgrid:true,tick0:0,dtick:0.5,gridcolor:'#FFFFFF',gridwidth:1.8,ticks:''}};
  layout['xaxis'+(idx===1?'':idx)]=Object.assign({},axBase,{domain:[left/W,right/W],range:xRange,anchor:ya});
  layout['yaxis'+(idx===1?'':idx)]=Object.assign({},axBase,{domain:[1-pBot/H,1-pTop/H],range:yRange,anchor:xa});
  shapes.push({type:'rect',xref:'paper',yref:'paper',x0:left/W,x1:right/W,y0:1-pTop/H,y1:1-sTop/H,
    fillcolor:'#D9D9D9',line:{width:0},layer:'below'});
  annotations.push({xref:'paper',yref:'paper',x:(left+right)/2/W,y:1-((sTop+pTop)/2)/H,text:panelLabels[k],
    showarrow:false,xanchor:'center',yanchor:'middle',font:{family:'Liberation Sans, Arial, sans-serif',size:35,color:'#1A1A1A'}});
});

Plotly.newPlot('chart',traces,layout,{staticPlot:true,displayModeBar:false});
</script>
</body>
</html>
